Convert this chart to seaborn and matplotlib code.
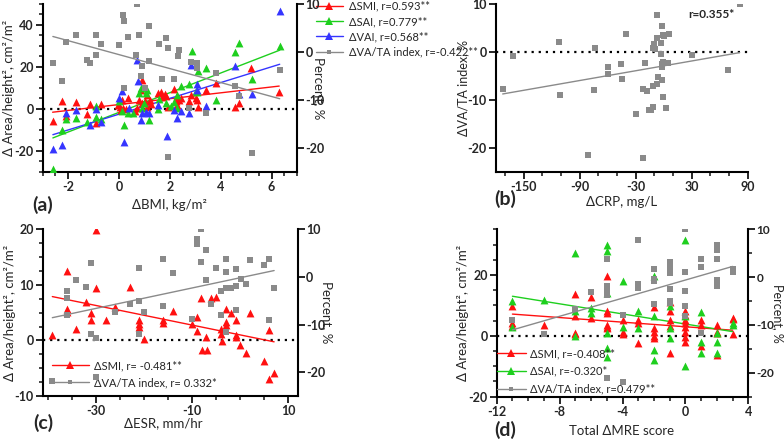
import numpy as np
import seaborn as sns
import matplotlib
matplotlib.use("Agg")
import matplotlib.pyplot as plt
from matplotlib.lines import Line2D
from matplotlib.ticker import MultipleLocator

RED = "#ff1010"
GREEN = "#1ecf1e"
BLUE = "#3535ff"
GREY = "#8a8a8a"

# ---- (a) change in BMI ----
a_smi_x = [-2.61, -2.23, -2.07, -1.71, -1.25, -1.15, -0.9, -0.69, -0.04, 0.03, 0.07, 0.13, 0.17, 0.26, 0.37,
           0.63, 0.69, 0.79, 0.86, 0.9, 0.92, 1.03, 1.12, 1.12, 1.21, 1.25, 1.55, 1.65, 1.69, 1.82, 1.84, 1.91,
           2.17, 2.24, 2.28, 2.3, 2.37, 2.44, 2.77, 2.83, 3.03, 3.06, 3.1, 3.43, 3.8, 4.55, 4.73, 5.2, 6.3]
a_smi_y = [-5.9, 3.7, -3.5, 3.2, -2.7, 2.4, -7, 2.5, 2, 1, -0.8, 4.4, 0.2, -0.3, 5.1,
           -1.1, 0.5, 4.4, 9.2, 2.9, 13.7, 3.7, 6.8, 1, 4.4, 2.1, 7.6, 7.9, 5.7, 7.3, 6, 1,
           9.5, 3.7, 6, 1.6, 4.4, 5.2, 3.7, 6.8, 5.2, 4.4, 1, 9.2, 12.4, 1, 2.9, 19.5, 7.9]
a_sai_x = [-2.6, -2.24, -2.07, -1.71, -1.25, -0.92, -0.9, -0.72, 0, 0.1, 0.2, 0.37, 0.55, 0.79, 0.86, 0.92,
           1.0, 1.08, 1.12, 1.19, 1.52, 1.58, 1.84, 2.04, 2.17, 2.3, 2.3, 2.44, 2.77, 2.86, 3.03, 3.07, 3.1,
           3.43, 3.82, 4.55, 4.7, 5.23, 6.32]
a_sai_y = [-28.6, -10.3, -5, -4.3, -6.3, 1.3, -3.8, -4.8, 3.6, -1.2, -7.9, -1.9, -1.8, 7.6, 10, 0.5,
           3, 7.6, 9.2, -5.4, -0.3, 4.8, 2.9, 1.3, 3.2, 0.5, 6.5, 11.1, 11.9, 27.5, 8.7, 7.9, 17.9,
           19.5, 4.4, 27, 31.4, 14, 29.8]
a_vai_x = [-2.6, -2.24, -2.07, -1.71, -1.15, -0.9, -0.69, 0, 0.13, 0.2, 0.4, 0.72, 0.76, 0.86, 0.9, 1.05,
           1.19, 1.55, 1.88, 2.17, 2.3, 2.44, 2.77, 2.83, 3.06, 3.07, 3.43, 4.55, 4.7, 5.23, 6.32]
a_vai_y = [-19.4, -17.3, -2.2, -0.6, -7.5, -0.3, -6.3, 5.2, 8.4, -15.9, 0.5, 23.5, 13.5, -5.1, -2.2, -1.6,
           -1.9, 1.6, -13, -0.8, -4.3, -1.1, -1.9, 21, 11.6, 9.2, 1.3, 20.3, 7.3, 7.3, 46.5]
a_vat_x = [-2.6, -2.24, -2.07, -1.71, -1.25, -1.15, -0.9, -0.9, -0.69, 0, 0.16, 0.2, 0.2, 0.37, 0.66, 0.7,
           0.79, 0.86, 0.9, 1.03, 1.19, 1.19, 1.58, 1.69, 1.84, 1.91, 1.91, 2.17, 2.33, 2.37, 2.77, 2.83,
           3.06, 3.06, 3.43, 3.82, 4.55, 4.7, 5.23, 6.32]
a_vat_y = [-2.4, -6.1, 2.1, 3.6, -1.6, -2.4, 3.6, -0.7, 1.7, 1.5, 7.7, 6.5, -7.6, 3.2, -0.6, 10,
           3.6, -5, -3, -7.6, 5.4, -1.9, 1.7, -5.7, 2.9, 0.8, -21.9, -5.7, -0.8, 0.5, -11.8, -2.1,
           -2.3, -3.3, -12.8, -4.3, -7.1, -9.2, -21, -3.8]
a_labels = ["ΔSMI, r=0.593**", "ΔSAI, r=0.779**", "ΔVAI, r=0.568**", "ΔVA/TA index, r=-0.422**"]

# ---- (b) change in CRP ----
b_crp = [-172.5, -161.8, -112.5, -110.7, -81.4, -73.6, -74.3, -59.3, -59.3, -45.7, -44.6, -40.4, -29.6,
         -22.5, -22.5, -20, -17.9, -15.4, -13.6, -11.1, -11.8, -11.8, -10, -9.3, -7.5, -7.5, -7.1, -5.7,
         -3.2, -2.9, -2.1, -2.1, -1.4, -1.8, -1.1, -0.7, 0, -0.7, 2.9, 5, 6.1, 30, 69.3, 81.4]
b_vat = [-7.6, -0.8, 2.2, -9, -21.3, 0.8, -7.9, -3.2, -4.5, -2.4, -5.7, 3.7, -12.9,
         -22.1, -7.6, -2.2, -8.1, -12, -12, -11.5, -7.1, 0.8, 1.7, 0.6, 7.8, 2.9, -6.7, -5.1,
         -0.5, 1.8, -2.4, -3, 5.5, -5.8, -2, 3.5, 3.3, -9.3, -11.7, -2.3, 3.8, -0.6, -3.8, 10]
b_label = "r=0.355*"

# ---- (c) change in ESR ----
c_smi_x = [-39, -36, -36, -36, -34.1, -32.1, -31, -31, -29.9, -29.9, -27.9, -26, -22.9, -21, -21, -21,
           -19.9, -16, -16, -13.9, -10, -9, -8.9, -8.1, -7.9, -7, -6.9, -6, -5, -3.9, -3.9, -3.8, -2.9,
           -2.9, -2.9, -1.9, -0.8, -0.8, -0.8, 0.1, 1.2, 2.1, 5, 6.1, 6.1, 7.1]
c_smi_y = [0.9, 12.5, 5.7, 5.1, 2, 6.9, 3.6, 4.9, 19.8, 9.5, 3.7, 6.1, 9.7, 3.7, 3, 2.5,
           0.3, 3.7, 3.1, 5.3, 2.9, 4.3, 1.7, 7.7, -1.8, 0.7, -1.8, 7.7, 7.9, 2.1, 1.2, -0.1, 5.7,
           3.3, 2.7, 4.9, 3.6, 0.9, 0.6, -0.8, -2.3, 4.9, -3.7, 1.8, -6.9, -5.9]
c_vat_x = [-39, -36, -36, -36, -34.1, -32.1, -31, -31, -29.9, -29.9, -26, -22.9, -21, -21, -21, -19.9,
           -16, -16, -13.9, -10, -9, -9, -8.1, -8.1, -7, -7, -6, -5, -3.9, -3.9, -2.9, -2.9, -2.9, -2.9,
           -1.9, -0.8, -0.8, -0.8, 0.2, 1.2, 2.1, 5, 6.1, 6.1, 7.1]
c_vat_y = [-21.8, -3, -4.4, -7.9, -0.7, -2.1, 2.9, -11.9, -12.8, -21.1, -7.4, -5.6, 1.8, -11.9, -5, -7.4,
           -6, 3.8, 0.8, -8.9, 8, 6.9, 10, 3.1, 5.6, -0.6, -5.6, 1.9, -2.9, -8, 3.8, 1, -2.3, -11.6,
           -2.3, 1.7, -7, -1.8, -0.4, -1.5, 3.5, 2.4, 3.8, -9.1, -2.3]
c_labels = ["ΔSMI, r= -0.481**", "ΔVA/TA index, r= 0.332*"]

# ---- (d) change in total MRE score ----
d_smi_x = [-11, -11, -11, -9, -7, -7, -7, -7, -6, -6, -5, -5, -5, -5, -5, -5, -4, -4, -4, -3, -3, -3,
           -2, -2, -2, -2, -2, -1, -1, -1, -1, -1, 0, 0, 0, 0, 0, 0, 0, 0, 1, 1, 1, 2, 2, 2, 2, 3, 3, 3]
d_smi_y = [9.9, 4.2, 3.3, 3.6, 13.8, 6.4, 0.9, 0.5, 12.6, 5.8, 19.7, 8.3, 7.5, 3.6, 2.9, 2.5, 5.3, 1.1,
           0.7, 5.3, 4.2, -2.4, 9.4, 2.5, 1.4, -0.2, -0.8, 11, 8, 5.3, 3.3, -5.7, 8, 6.9, 5.3, 4.2, 2.9,
           1.4, -0.4, -1.9, 5.3, 3.6, -3.5, 3.6, 1.4, 0.9, -6.3, 6, 5.5, 0.7]
d_sai_x = [-11, -11, -9, -7, -7, -7, -6, -6, -5, -5, -5, -5, -5, -5, -4, -4, -3, -3, -2, -2, -2, -2,
           -1, -1, -1, 0, 0, 0, 1, 1, 1, 2, 2, 2, 3, 3]
d_sai_y = [11.3, 2.9, 11.8, 27.2, 8, 0, 9.1, 7.5, 29.9, 28, 14, 0.9, -4.1, -6.8, 18.1, 2.9, 8.2, 2.5,
           19.7, 6.4, -4.8, -7.9, 9.9, 2.5, -0.8, 31.6, 6.4, -9.9, 7.7, -1.9, -5.5, 0.9, -1.9, -5.7, 4.2, 3.6]
d_vat_x = [-11, -9, -7, -6, -5, -5, -5, -5, -5, -4, -4, -3, -3, -3, -2, -2, -2, -2, -1, -1, -1, -1,
           -1, -1, 0, 0, 0, 0, 0, 1, 1, 1, 2, 2, 2, 2, 2, 3, 3, 3]
d_vat_y = [-8.9, -11.9, -6.7, -3.1, 3.8, -1.9, -2.4, -3.7, -21.1, -7.9, -22, 7.8, -1.5, -2.2, 1.7, -0.4,
           -0.8, -5.6, 3.1, 2, 0.8, -2.5, -4.9, -5.4, 10, 1, -3, -6.1, -8.2, 3.8, 2.2, -11.6, 6.8, 5.7,
           3.8, -0.6, -1.8, 1.7, 1.2, 1]
d_labels = ["ΔSMI, r=-0.408**", "ΔSAI, r=-0.320*", "ΔVA/TA index, r=0.479**"]

LEFT_LABEL = "Δ Area/height², cm²/m²"
RIGHT_LABEL = "Percent, %"

sns.set_style("ticks")
plt.rcParams['font.family'] = ['Lato', 'DejaVu Sans']
plt.rcParams['axes.linewidth'] = 1.5
plt.rcParams['axes.edgecolor'] = 'black'

fig = plt.figure(figsize=(7.84, 4.44), dpi=100)
W, H = 784, 444


def add_ax(l, t, r, b):
    return fig.add_axes([l / W, 1 - b / H, (r - l) / W, (b - t) / H])


def tri(ax, x, y, color):
    sns.scatterplot(x=x, y=y, ax=ax, marker='^', s=32, color=color, linewidth=0, zorder=3)


def sq(ax, x, y):
    sns.scatterplot(x=x, y=y, ax=ax, marker='s', s=13, color=GREY, linewidth=0, zorder=3)


def fit(ax, x, y, color):
    sns.regplot(x=x, y=y, ax=ax, scatter=False, ci=None, truncate=True, color=color,
                line_kws={'lw': 1.0, 'zorder': 2})


def ticks(axis, major, minor):
    axis.set_major_locator(plt.FixedLocator(major))
    if minor:
        axis.set_minor_locator(MultipleLocator(minor))
    axis.set_ticklabels([f"{v:g}" for v in major], fontweight='bold', fontsize=9)


def frame(ax, ax2=None):
    ax.spines['top'].set_visible(False)
    ax.spines['right'].set_visible(False)
    ax.tick_params(which='major', length=5, width=1.4, pad=1.5)
    ax.tick_params(which='minor', length=3, width=1.2)
    ax.axhline(0, color='black', lw=1.6, ls=(0, (1, 2.2)), zorder=1)
    ax.set_xlabel("")
    ax.set_ylabel("")
    if ax2 is not None:
        for s in ['top', 'left', 'bottom']:
            ax2.spines[s].set_visible(False)
        ax2.spines['right'].set_linewidth(1.5)
        ax2.tick_params(which='major', length=5, width=1.4, pad=1.0)
        ax2.tick_params(which='minor', length=3, width=1.2)
        ax2.set_xlabel("")


def ylab(ax, text, x, side='left', size=9.5):
    ax.set_ylabel(text, fontsize=size, va='center', rotation=90 if side == 'left' else 270)
    ax.yaxis.set_label_coords(x, 0.5)


def xlab(ax, text, x, y):
    ax.set_xlabel(text, fontsize=9.5, va='center')
    ax.xaxis.set_label_coords(x, y)


def tri_h(c):
    return Line2D([], [], color=c, lw=1.0, marker='^', markersize=5.5, markeredgewidth=0)


sq_h = Line2D([], [], color=GREY, lw=1.0, marker='s', markersize=3.5, markeredgewidth=0)

# ================= (a) =================
ax = add_ax(42.7, 4, 297, 171.7)
ax2 = ax.twinx()
for x, y, c in [(a_smi_x, a_smi_y, RED), (a_sai_x, a_sai_y, GREEN), (a_vai_x, a_vai_y, BLUE)]:
    tri(ax, x, y, c)
    fit(ax, x, y, c)
sq(ax2, a_vat_x, a_vat_y)
fit(ax2, a_vat_x, a_vat_y, GREY)
frame(ax, ax2)
ax.set_xlim(-3, 7)
ax.set_ylim(-30, 50)
ax2.set_ylim(-25, 10)
ticks(ax.xaxis, [-2, 0, 2, 4, 6], 0.5)
ticks(ax.yaxis, [-20, 0, 20, 40], 5)
ticks(ax2.yaxis, [-20, -10, 0, 10], None)
xlab(ax, "ΔBMI, kg/m²", 0.5, -0.2)
ylab(ax, LEFT_LABEL, -0.132)
ylab(ax2, RIGHT_LABEL, 1.085, 'right')
ax.legend([tri_h(RED), tri_h(GREEN), tri_h(BLUE), sq_h], a_labels, loc='upper left',
          bbox_to_anchor=(316 / W, 1 - 0.5 / H), bbox_transform=fig.transFigure, frameon=False,
          fontsize=8, handlelength=2.4, handletextpad=0.55, labelspacing=0.4, borderpad=0,
          borderaxespad=0)

# ================= (b) =================
ax = add_ax(495.7, 4, 747.7, 172.3)
sq(ax, b_crp, b_vat)
fit(ax, b_crp, b_vat, GREY)
frame(ax)
ax.set_xlim(-180, 90)
ax.set_ylim(-25, 10)
ax.xaxis.set_major_locator(plt.FixedLocator([-150, -90, -30, 30, 90]))
ax.xaxis.set_minor_locator(plt.FixedLocator(list(range(-170, 91, 20))))
ax.xaxis.set_ticklabels(["-150", "-90", "-30", "30", "90"], fontweight='bold', fontsize=9)
ticks(ax.yaxis, [-20, -10, 0, 10], None)
xlab(ax, "ΔCRP, mg/L", 0.5, -0.175)
ylab(ax, "ΔVA/TA index, %", -0.13, size=9)
fig.text(711 / W, 1 - 15 / H, b_label, fontsize=8.5, fontweight='bold', ha='center', va='center')

# ================= (c) =================
ax = add_ax(42.7, 229.3, 297.7, 396)
ax2 = ax.twinx()
tri(ax, c_smi_x, c_smi_y, RED)
fit(ax, c_smi_x, c_smi_y, RED)
sq(ax2, c_vat_x, c_vat_y)
fit(ax2, c_vat_x, c_vat_y, GREY)
frame(ax, ax2)
ax.set_xlim(-41, 12)
ax.set_ylim(-10, 20)
ax2.set_ylim(-25, 10)
ticks(ax.xaxis, [-30, -10, 10], 5)
ticks(ax.yaxis, [-10, 0, 10, 20], 2.5)
ticks(ax2.yaxis, [-20, -10, 0, 10], None)
xlab(ax, "ΔESR, mm/hr", 0.472, -0.161)
ylab(ax, LEFT_LABEL, -0.13)
ylab(ax2, RIGHT_LABEL, 1.114, 'right')
ax.legend([tri_h(RED), sq_h], c_labels, loc='upper left',
          bbox_to_anchor=(52 / W, 1 - 360 / H), bbox_transform=fig.transFigure, frameon=False,
          fontsize=8, handlelength=3.3, handletextpad=0.5, labelspacing=0.55, borderpad=0,
          borderaxespad=0)

# ================= (d) =================
ax = add_ax(496.7, 229.3, 748.3, 396.7)
ax2 = ax.twinx()
tri(ax, d_smi_x, d_smi_y, RED)
tri(ax, d_sai_x, d_sai_y, GREEN)
fit(ax, d_smi_x, d_smi_y, RED)
fit(ax, d_sai_x, d_sai_y, GREEN)
sq(ax2, d_vat_x, d_vat_y)
fit(ax2, d_vat_x, d_vat_y, GREY)
frame(ax, ax2)
ax.set_xlim(-12, 4)
ax.set_ylim(-20, 35)
ax2.set_ylim(-25, 10)
ticks(ax.xaxis, [-12, -8, -4, 0, 4], 1)
ticks(ax.yaxis, [-20, 0, 20], 5)
ticks(ax2.yaxis, [-20, -10, 0, 10], 5)
ax2.set_yticklabels(["-20", "-10", "0", "10"], fontweight='bold', fontsize=8.5)
xlab(ax, "Total ΔMRE score", 0.497, -0.203)
ylab(ax, LEFT_LABEL, -0.134)
ylab(ax2, RIGHT_LABEL, 1.118, 'right', size=9)
ax.legend([tri_h(RED), tri_h(GREEN), sq_h], d_labels, loc='upper left',
          bbox_to_anchor=(497 / W, 1 - 348 / H), bbox_transform=fig.transFigure, frameon=False,
          fontsize=8, handlelength=2.6, handletextpad=0.35, labelspacing=0.62, borderpad=0,
          borderaxespad=0)

# panel letters
for lbl, x, y in [("(a)", 43, 205), ("(b)", 505, 199), ("(c)", 43, 423), ("(d)", 505, 430)]:
    fig.text(x / W, 1 - y / H, lbl, fontsize=14, fontweight='bold', ha='center', va='center')

fig.savefig("out.png", dpi=100, facecolor='white')
